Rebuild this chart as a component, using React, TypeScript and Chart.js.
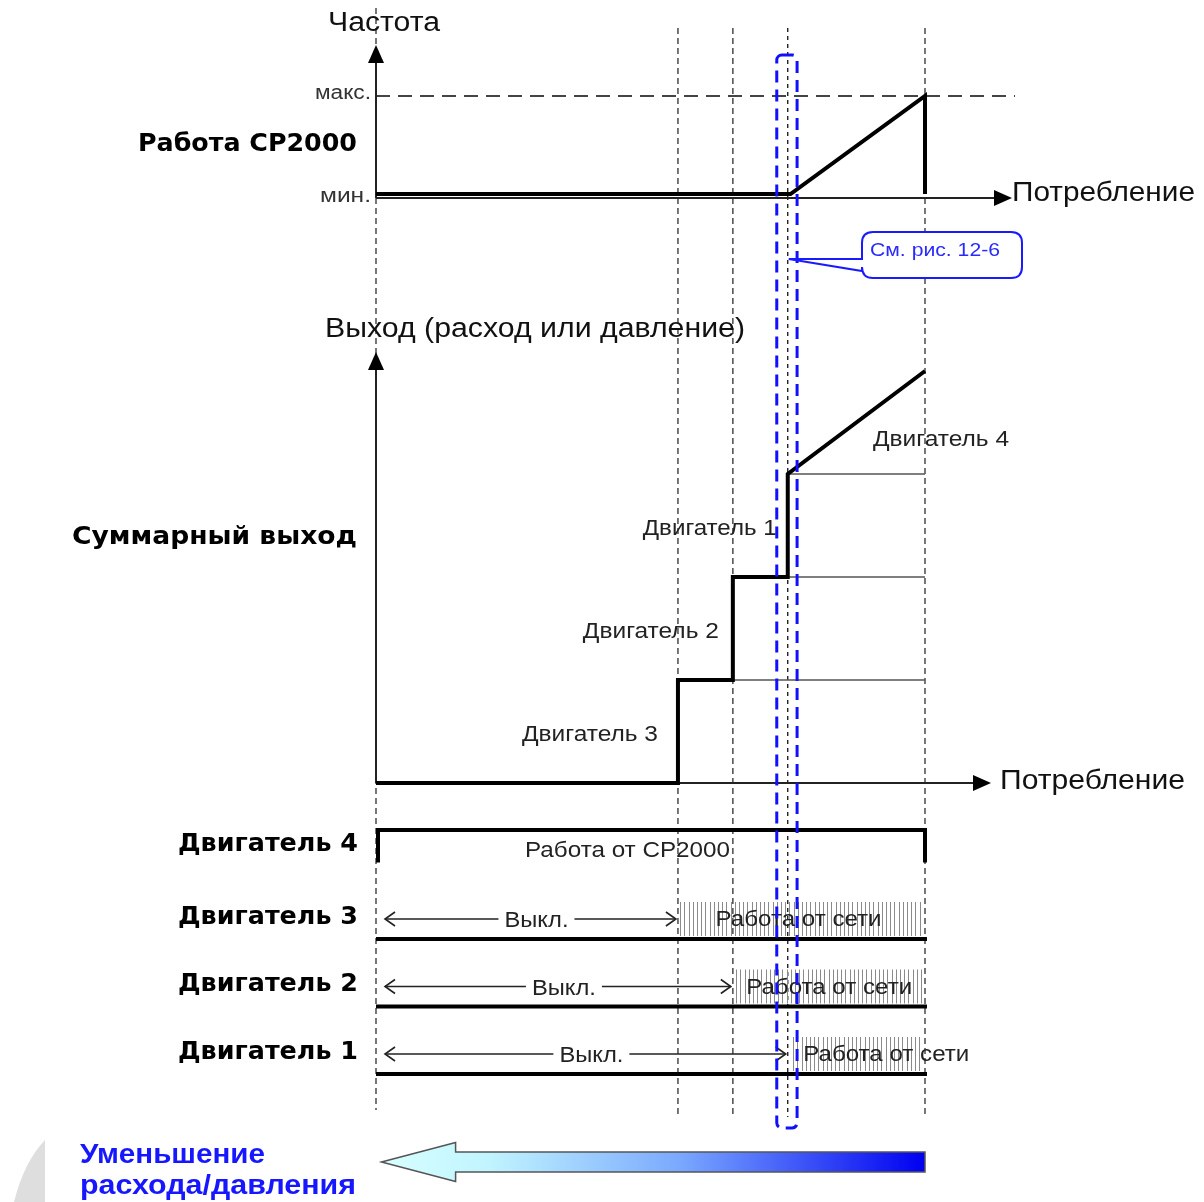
import { useEffect, useRef } from 'react';
import { Chart, registerables } from 'chart.js';

Chart.register(...registerables);

const W = 1204;
const H = 1202;

// ---- Data ----
// Consumption axis: 0 = no demand, 100 = full demand
const eventPoints = [0, 55, 65, 75, 100];
const highlightRange = [73, 76.7];

// CP2000 frequency (0 = мин., 1 = макс.)
const freqX = [0, 75.5, 100, 100];
const freqY = [0, 0, 1, 0];
const freqTickLabels = ['мин.', 'макс.'];
const freqTickValues = [0, 1];

// Total output (number of motor steps)
const outX = [0, 55, 55, 65, 65, 75, 75, 100];
const outY = [0, 0, 1, 1, 2, 2, 3, 4];
const stepLevels = [1, 2, 3];
const stepLevelStart = [65, 75, 75];
const outMotorLabels = ['Двигатель 3', 'Двигатель 2', 'Двигатель 1', 'Двигатель 4'];

// Motor status rows (top to bottom)
const motorNames = ['Двигатель 4', 'Двигатель 3', 'Двигатель 2', 'Двигатель 1'];
const motorRows = [3, 2, 1, 0];
const motorMainsStart = [0, 55, 65, 75];
const motorHatchStart = [0, 55.4, 65.6, 76];
const motorStates = ['Работа от CP2000', 'Работа от сети', 'Работа от сети', 'Работа от сети'];
const offLabel = 'Выкл.';

// Texts
const titleFreq = 'Частота';
const titleOut = 'Выход (расход или давление)';
const axisLabel = 'Потребление';
const panelFreq = 'Работа CP2000';
const panelOut = 'Суммарный выход';
const calloutText = 'См. рис. 12-6';
const arrowText = ['Уменьшение', 'расхода/давления'];

// ---- Layout helpers ----
function rangeY(zeroPx: number, onePx: number) {
  const u = zeroPx - onePx;
  return { min: -(H - zeroPx) / u, max: zeroPx / u };
}
function rangeX(zeroPx: number, hundredPx: number) {
  const u = (hundredPx - zeroPx) / 100;
  return { min: -zeroPx / u, max: (W - zeroPx) / u };
}

const F = '"Liberation Sans", Arial, sans-serif';
const FB = '"DejaVu Sans", "Liberation Sans", sans-serif';

function txt(
  ctx: CanvasRenderingContext2D,
  s: string,
  x: number,
  y: number,
  font: string,
  color: string,
  align: 'left' | 'right' | 'center',
  width?: number
) {
  ctx.save();
  ctx.font = font;
  ctx.fillStyle = color;
  ctx.textBaseline = 'middle';
  ctx.textAlign = 'left';
  const m = ctx.measureText(s).width;
  const w = width ?? m;
  const sx = w / m;
  const left = align === 'left' ? x : align === 'right' ? x - w : x - w / 2;
  ctx.translate(left, y);
  ctx.scale(sx, 1);
  ctx.fillText(s, 0, 0);
  ctx.restore();
}

function line(ctx: CanvasRenderingContext2D, pts: number[][], color: string, width: number, dash: number[] = []) {
  ctx.save();
  ctx.strokeStyle = color;
  ctx.lineWidth = width;
  ctx.setLineDash(dash);
  ctx.beginPath();
  pts.forEach((p, i) => (i === 0 ? ctx.moveTo(p[0], p[1]) : ctx.lineTo(p[0], p[1])));
  ctx.stroke();
  ctx.restore();
}

function tri(ctx: CanvasRenderingContext2D, pts: number[][], color: string) {
  ctx.save();
  ctx.fillStyle = color;
  ctx.beginPath();
  pts.forEach((p, i) => (i === 0 ? ctx.moveTo(p[0], p[1]) : ctx.lineTo(p[0], p[1])));
  ctx.closePath();
  ctx.fill();
  ctx.restore();
}

const backgroundPlugin = {
  id: 'bg',
  beforeDraw(chart: any) {
    const ctx = chart.ctx as CanvasRenderingContext2D;
    ctx.save();
    ctx.fillStyle = '#ffffff';
    ctx.fillRect(0, 0, W, H);
    ctx.restore();
  },
};

const underPlugin = {
  id: 'under',
  beforeDatasetsDraw(chart: any) {
    const ctx = chart.ctx as CanvasRenderingContext2D;
    const sx = chart.scales.x;
    const yF = chart.scales.yFreq;
    const yO = chart.scales.yOut;
    const yR = chart.scales.yRow;
    const xs = (v: number) => sx.getPixelForValue(v);
    const axisColor = '#222';

    // vertical guides
    eventPoints.forEach((v, i) => {
      const x = xs(v);
      const black = i === 3;
      line(ctx, [[x, i === 0 ? 8 : 28], [x, i === 0 ? 1110 : 1117]], black ? '#111' : '#555', black ? 1.3 : 1.6, black ? [4, 4] : [6, 4]);
    });

    // gray decoration bottom-left
    ctx.save();
    ctx.fillStyle = '#dedede';
    ctx.beginPath();
    ctx.moveTo(45, 1140);
    ctx.quadraticCurveTo(24, 1162, 14, 1202);
    ctx.lineTo(45, 1202);
    ctx.closePath();
    ctx.fill();
    ctx.restore();

    // ---- Frequency panel ----
    const yMax = yF.getPixelForValue(1);
    const yAxisF = yF.getPixelForValue(0) + 4;
    line(ctx, [[xs(0), yMax], [1015, yMax]], '#444', 2, [14, 8]);
    line(ctx, [[xs(0), yAxisF], [xs(0), 60]], axisColor, 2);
    tri(ctx, [[xs(0), 45], [xs(0) - 8, 63], [xs(0) + 8, 63]], '#000');
    line(ctx, [[xs(0), yAxisF], [996, yAxisF]], axisColor, 2);
    tri(ctx, [[1012, yAxisF], [994, yAxisF - 8], [994, yAxisF + 8]], '#000');
    freqTickLabels.forEach((s, i) => {
      const y = yF.getPixelForValue(freqTickValues[i]) + (i === 0 ? 2 : -3);
      txt(ctx, s, xs(0) - 5, y, `20px ${F}`, '#333', 'right', i === 0 ? 51 : 56);
    });

    // ---- Output panel ----
    const y0 = yO.getPixelForValue(0);
    stepLevels.forEach((lv, i) => {
      const y = yO.getPixelForValue(lv);
      line(ctx, [[xs(stepLevelStart[i]), y], [xs(100), y]], '#555', 1.5);
    });
    line(ctx, [[xs(0), y0], [xs(0), 368]], axisColor, 2);
    tri(ctx, [[xs(0), 352], [xs(0) - 8, 370], [xs(0) + 8, 370]], '#000');
    line(ctx, [[xs(0), y0], [975, y0]], axisColor, 2);
    tri(ctx, [[991, y0], [973, y0 - 8], [973, y0 + 8]], '#000');

    // ---- Motor rows ----
    motorNames.forEach((name, i) => {
      const ry = yR.getPixelForValue(motorRows[i]);
      if (i === 0) {
        line(ctx, [[xs(0) + 2, ry - 9], [xs(0) + 2, ry - 41.5], [xs(100), ry - 41.5], [xs(100), ry - 9]], '#000', 4);
        return;
      }
      // hatch
      const hx0 = xs(motorHatchStart[i]);
      const hx1 = xs(100) - 2;
      ctx.save();
      ctx.strokeStyle = '#8a8a8a';
      ctx.lineWidth = 1;
      for (let x = hx0; x <= hx1; x += 4.2) {
        ctx.beginPath();
        ctx.moveTo(Math.round(x) + 0.5, ry - 37);
        ctx.lineTo(Math.round(x) + 0.5, ry - 3);
        ctx.stroke();
      }
      ctx.restore();
      // baseline
      line(ctx, [[xs(0), ry], [xs(100) + 2, ry]], '#000', 4);
      // off arrow
      const ay = ry - 20;
      const ax0 = xs(0) + 9;
      const ax1 = xs(motorMainsStart[i]) - 2;
      line(ctx, [[ax0, ay], [ax1, ay]], '#222', 1.6);
      line(ctx, [[ax0 + 10, ay - 7], [ax0, ay], [ax0 + 10, ay + 7]], '#222', 1.6);
      line(ctx, [[ax1 - 10, ay - 7], [ax1, ay], [ax1 - 10, ay + 7]], '#222', 1.6);
    });
  },
};

const overPlugin = {
  id: 'over',
  afterDatasetsDraw(chart: any) {
    const ctx = chart.ctx as CanvasRenderingContext2D;
    const sx = chart.scales.x;
    const yF = chart.scales.yFreq;
    const yO = chart.scales.yOut;
    const yR = chart.scales.yRow;
    const xs = (v: number) => sx.getPixelForValue(v);

    // ---- Frequency panel texts ----
    txt(ctx, titleFreq, 328, 24, `27px ${F}`, '#111', 'left', 112);
    txt(ctx, panelFreq, 357, 144, `bold 25px ${FB}`, '#000', 'right', 219);
    txt(ctx, axisLabel, 1012, 193, `28px ${F}`, '#111', 'left', 183);

    // ---- Output panel texts ----
    txt(ctx, titleOut, 325, 330, `27px ${F}`, '#111', 'left', 420);
    txt(ctx, panelOut, 357, 537, `bold 25px ${FB}`, '#000', 'right', 285);
    txt(ctx, axisLabel, 1000, 781, `28px ${F}`, '#111', 'left', 185);
    const lblRight = [xs(55) - 20, xs(65) - 14, xs(75) - 11];
    outMotorLabels.forEach((s, i) => {
      if (i < 3) {
        const y = (yO.getPixelForValue(i) + yO.getPixelForValue(i + 1)) / 2 + 3;
        txt(ctx, s, lblRight[i], y, `22px ${F}`, '#222', 'right', i === 0 ? 136 : i === 1 ? 136 : 134);
      } else {
        txt(ctx, s, 873, yO.getPixelForValue(3.33), `22px ${F}`, '#222', 'left', 136);
      }
    });

    // ---- Motor row texts ----
    motorNames.forEach((name, i) => {
      const ry = yR.getPixelForValue(motorRows[i]);
      const ly = i === 0 ? ry - 27.5 : ry - 22;
      txt(ctx, name, 358, ly, `bold 25px ${FB}`, '#000', 'right', 180);
      if (i === 0) {
        txt(ctx, motorStates[i], 525, ry - 20.5, `22px ${F}`, '#222', 'left', 205);
        return;
      }
      const ay = ry - 20;
      const ax0 = xs(0) + 9;
      const ax1 = xs(motorMainsStart[i]) - 2;
      const mid = (ax0 + ax1) / 2 + 6;
      ctx.save();
      ctx.fillStyle = '#fff';
      ctx.fillRect(mid - 38, ay - 10, 76, 20);
      ctx.restore();
      txt(ctx, offLabel, mid, ry - 18, `22px ${F}`, '#222', 'center', 64);
      const hx0 = xs(motorHatchStart[i]);
      const hc = (hx0 + xs(100)) / 2;
      const c = Math.max(hc, hx0 + 14 + 83);
      txt(ctx, motorStates[i], c - 4, ry - 19, `22px ${F}`, '#222', 'center', 166);
    });

    // ---- Blue dashed highlight ----
    const bx0 = xs(highlightRange[0]);
    const bx1 = xs(highlightRange[1]);
    ctx.save();
    ctx.strokeStyle = '#1010ff';
    ctx.lineWidth = 3;
    ctx.setLineDash([12, 7]);
    ctx.beginPath();
    (ctx as any).roundRect(bx0, 55, bx1 - bx0, 1128 - 55, 5);
    ctx.stroke();
    ctx.restore();

    // ---- Callout ----
    const tipX = xs(75) + 1;
    const cx0 = 862, cy0 = 232, cx1 = 1022, cy1 = 278, r = 11;
    ctx.save();
    ctx.beginPath();
    ctx.moveTo(cx0 + r, cy0);
    ctx.lineTo(cx1 - r, cy0);
    ctx.quadraticCurveTo(cx1, cy0, cx1, cy0 + r);
    ctx.lineTo(cx1, cy1 - r);
    ctx.quadraticCurveTo(cx1, cy1, cx1 - r, cy1);
    ctx.lineTo(cx0 + r, cy1);
    ctx.quadraticCurveTo(cx0, cy1, cx0, cy1 - r);
    ctx.lineTo(cx0, 271);
    ctx.lineTo(tipX, 259);
    ctx.lineTo(cx0, 259);
    ctx.lineTo(cx0, cy0 + r);
    ctx.quadraticCurveTo(cx0, cy0, cx0 + r, cy0);
    ctx.closePath();
    ctx.fillStyle = '#fff';
    ctx.fill();
    ctx.strokeStyle = '#1a1aff';
    ctx.lineWidth = 2;
    ctx.stroke();
    ctx.restore();
    txt(ctx, calloutText, 870, 251, `19px ${F}`, '#2a2aff', 'left', 130);

    // ---- Bottom gradient arrow ----
    const tip = xs(1);
    const headBase = xs(14.5);
    const end = xs(100);
    const ac = 1162;
    ctx.save();
    const g = ctx.createLinearGradient(tip, 0, end, 0);
    g.addColorStop(0, '#d8ffff');
    g.addColorStop(0.2, '#c0f4ff');
    g.addColorStop(0.55, '#7aa8ff');
    g.addColorStop(1, '#0000f0');
    ctx.beginPath();
    ctx.moveTo(tip, ac);
    ctx.lineTo(headBase, ac - 19.5);
    ctx.lineTo(headBase, ac - 10);
    ctx.lineTo(end, ac - 10);
    ctx.lineTo(end, ac + 10);
    ctx.lineTo(headBase, ac + 10);
    ctx.lineTo(headBase, ac + 19.5);
    ctx.closePath();
    ctx.fillStyle = g;
    ctx.fill();
    ctx.strokeStyle = '#555';
    ctx.lineWidth = 1.5;
    ctx.stroke();
    ctx.restore();
    txt(ctx, arrowText[0], 80, 1155, `bold 28px ${F}`, '#1717ff', 'left', 185);
    txt(ctx, arrowText[1], 80, 1186, `bold 28px ${F}`, '#1717ff', 'left', 276);
  },
};

export default function App() {
  const ref = useRef<HTMLCanvasElement>(null);
  useEffect(() => {
    if (!ref.current) return;
    const xr = rangeX(376, 925);
    const fr = rangeY(194, 96);
    const orr = rangeY(783, 680);
    const rr = rangeY(1074, 1006.5);
    const chart = new Chart(ref.current, {
      type: 'line',
      data: {
        datasets: [
          {
            label: 'Частота',
            data: freqX.map((x, i) => ({ x, y: freqY[i] })),
            xAxisID: 'x',
            yAxisID: 'yFreq',
            borderColor: '#000',
            borderWidth: 4,
            pointRadius: 0,
            tension: 0,
            fill: false,
            borderJoinStyle: 'miter',
          },
          {
            label: 'Суммарный выход',
            data: outX.map((x, i) => ({ x, y: outY[i] })),
            xAxisID: 'x',
            yAxisID: 'yOut',
            borderColor: '#000',
            borderWidth: 4,
            pointRadius: 0,
            tension: 0,
            fill: false,
            borderJoinStyle: 'miter',
          },
        ],
      },
      options: {
        responsive: false,
        animation: false,
        maintainAspectRatio: false,
        layout: { padding: 0 },
        events: [],
        plugins: { legend: { display: false }, tooltip: { enabled: false }, title: { display: false } },
        scales: {
          x: { type: 'linear', display: false, min: xr.min, max: xr.max },
          yFreq: { type: 'linear', display: false, min: fr.min, max: fr.max },
          yOut: { type: 'linear', display: false, min: orr.min, max: orr.max },
          yRow: { type: 'linear', display: false, min: rr.min, max: rr.max },
        },
      } as any,
      plugins: [backgroundPlugin, underPlugin, overPlugin],
    });
    return () => chart.destroy();
  }, []);
  return (
    <div style={{ position: 'absolute', left: 0, top: 0, width: W, height: H, background: '#fff' }}>
      <canvas ref={ref} width={W} height={H} style={{ display: 'block', width: W, height: H }} />
    </div>
  );
}
